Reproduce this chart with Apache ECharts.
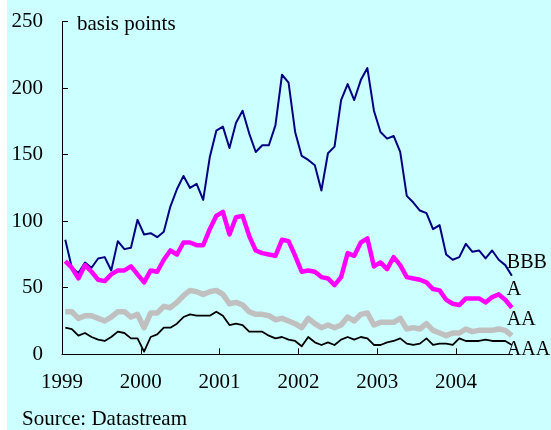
<!DOCTYPE html>
<html>
<head>
<meta charset="utf-8">
<script src="https://cdn.jsdelivr.net/npm/echarts@6/dist/echarts.min.js"></script>
<style>
html, body { margin: 0; padding: 0; background: #fff; }
#main { position: absolute; left: 7px; top: 0; width: 544px; height: 430px; background: #ccffff; }
</style>
</head>
<body>
<div id="main"></div>
<script>
// monthly spreads, Jan 1999 - Sep 2004
var yearLabels = ['1999', '2000', '2001', '2002', '2003', '2004'];
var yTicks = [0, 50, 100, 150, 200, 250];

var bbb = [86, 65, 61, 69, 65, 72, 73, 63, 85, 79, 80, 101, 90, 91, 88, 92, 111, 124, 134, 125,
    128, 116, 148, 168, 171, 155, 174, 183, 166, 152, 157, 157, 172, 210, 204, 167, 149, 146, 142, 123,
    151, 156, 191, 203, 191, 206, 215, 183, 167, 162, 164, 152, 119, 114, 108, 106, 94, 97, 75, 71,
    73, 83, 77, 78, 72, 78, 71, 67, 59];
var singleA = [70, 65, 57, 67, 62, 56, 55, 60, 63, 63, 66, 60, 54, 63, 62, 71, 78, 75, 84, 84,
    82, 82, 94, 104, 107, 90, 103, 104, 89, 78, 76, 75, 74, 86, 85, 74, 62, 63, 62, 58,
    57, 52, 58, 76, 74, 84, 87, 66, 69, 64, 73, 67, 58, 57, 56, 54, 49, 48, 41, 38,
    37, 42, 42, 42, 39, 43, 45, 41, 35];
var doubleA = [32, 32, 27, 29, 29, 27, 25, 28, 32, 32, 28, 30, 20, 31, 31, 36, 35, 39, 44, 48,
    47, 45, 47, 48, 45, 38, 39, 37, 32, 30, 30, 29, 26, 27, 25, 23, 20, 27, 23, 20,
    22, 20, 22, 28, 25, 30, 31, 22, 24, 24, 24, 27, 19, 20, 19, 23, 18, 16, 14, 16,
    16, 19, 17, 18, 18, 18, 19, 18, 14];
var tripleA = [20, 19, 14, 16, 13, 11, 10, 13, 17, 16, 12, 12, 2, 13, 15, 20, 20, 23, 28, 30,
    29, 29, 29, 32, 29, 22, 23, 22, 17, 17, 17, 14, 12, 13, 11, 10, 6, 13, 9, 7,
    9, 7, 11, 13, 11, 13, 12, 7, 7, 9, 10, 12, 8, 7, 8, 12, 7, 8, 8, 7,
    12, 10, 10, 10, 11, 10, 10, 10, 7];

var serifFont = '"Liberation Serif", "DejaVu Serif", serif';

// month index -> mid-month x position
function toPoints(arr) {
    return arr.map(function (v, i) { return [i + 0.5, v]; });
}

function makeLine(name, data, color, width, labelOffset) {
    return {
        name: name,
        type: 'line',
        data: toPoints(data),
        symbol: 'none',
        smooth: false,
        animation: false,
        lineStyle: { color: color, width: width, join: 'round' },
        endLabel: {
            show: true,
            formatter: name,
            position: 'right',
            distance: 0,
            offset: labelOffset,
            color: '#000',
            fontFamily: serifFont,
            fontSize: 20
        }
    };
}

var chart = echarts.init(document.getElementById('main'));

var option = {
    animation: false,
    grid: { left: 55, right: 38.5, top: 21.5, bottom: 75.7 },
    xAxis: {
        type: 'value',
        min: 0,
        max: 68.6,
        interval: 12,
        axisLine: { show: true, lineStyle: { color: '#000', width: 1 } },
        axisTick: { show: true, inside: true, length: 6, lineStyle: { color: '#000' } },
        splitLine: { show: false },
        axisLabel: {
            margin: 18,
            color: '#000',
            fontFamily: serifFont,
            fontSize: 21,
            showMaxLabel: false,
            formatter: function (v) {
                return v % 12 === 0 ? yearLabels[v / 12] : '';
            }
        }
    },
    yAxis: {
        type: 'value',
        min: yTicks[0],
        max: yTicks[yTicks.length - 1],
        interval: 50,
        axisLine: { show: true, lineStyle: { color: '#000', width: 1 } },
        axisTick: { show: true, inside: true, length: 6, lineStyle: { color: '#000' } },
        splitLine: { show: false },
        axisLabel: {
            margin: 19,
            color: '#000',
            fontFamily: serifFont,
            fontSize: 21
        }
    },
    graphic: [
        {
            type: 'text',
            left: 70,
            top: 14,
            style: { text: 'basis points', fill: '#000', font: '21px ' + serifFont }
        },
        {
            type: 'text',
            left: 15,
            top: 409,
            style: { text: 'Source: Datastream', fill: '#000', font: '21px ' + serifFont }
        }
    ],
    series: [
        makeLine('BBB', bbb, '#000080', 2, [-5, -13]),
        makeLine('A', singleA, '#ff00ff', 4.5, [-5, -18]),
        makeLine('AA', doubleA, '#c0c0c0', 5.5, [-5, -16]),
        makeLine('AAA', tripleA, '#000000', 1.8, [-5, 5])
    ]
};

chart.setOption(option);
</script>
</body>
</html>
